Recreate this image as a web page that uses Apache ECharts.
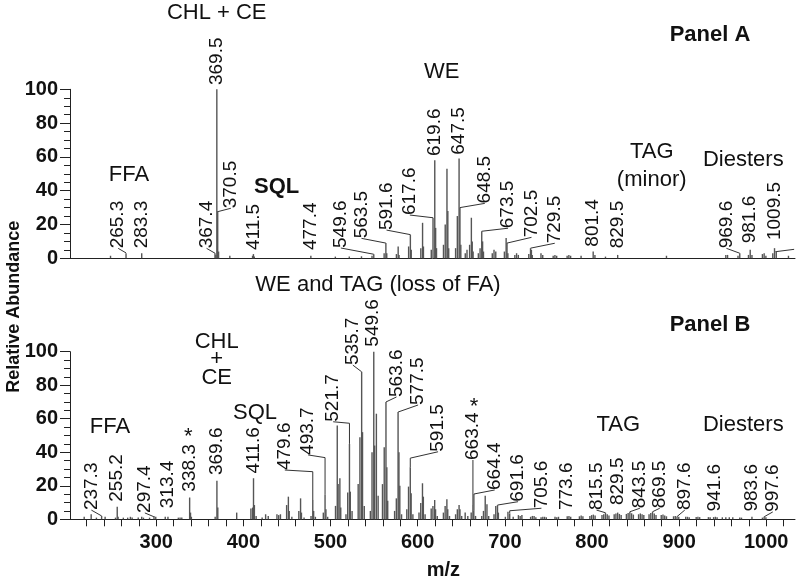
<!DOCTYPE html>
<html>
<head>
<meta charset="utf-8">
<script src="https://cdn.jsdelivr.net/npm/echarts@6/dist/echarts.min.js"></script>
<style>html,body{margin:0;padding:0;background:#fff}#c{width:800px;height:580px}</style>
</head>
<body>
<div id="c"></div>
<script>
// ---------- DATA ----------
// Panel A spectrum: [m/z, relative abundance %]
const spectrumA = [
[247.5,1.5],[265.3,3],[283.3,3],
[367.4,3],[368.4,2],[369.5,100],[370.5,28],[371.5,4],
[384.4,1.5],[410.5,1.5],[411.5,2.5],[412.5,1],
[477.4,1.5],[505.5,1],[521.5,1],[535.5,1.2],
[547.6,1.5],[549.6,2.4],[561.5,3],[563.5,9],[564.5,3],
[575.6,2.5],[577.6,7],[578.6,2],
[589.6,7],[591.6,14],[592.6,5],
[603.6,6],[605.6,21],[606.6,7],
[615.6,5],[617.6,24],[619.6,58],[620.6,18],[621.6,6],
[629.6,8],[631.6,20],[633.6,53],[634.6,28],[635.6,6],
[643.5,6],[645.5,25],[647.5,59],[648.5,30],[649.5,8],
[654.6,3],[656.6,5],[659.6,8],[661.6,24],[662.6,10],[663.6,4],
[669.6,3],[671.6,6],[673.5,16],[674.5,10],[675.5,4],
[685.6,3],[687.6,5],[689.6,4],
[699.5,4],[701.5,12],[702.5,9],[703.5,3],
[711.5,2],[713.5,3],[715.5,2],
[727.5,2.5],[729.5,6],[730.5,5],[731.5,2],
[741.5,3],[743.5,2],
[755.5,1.5],[757.5,2],[759.5,1.5],
[771.5,1.5],[773.5,2],[775.5,1.5],
[787.5,1.5],
[801.4,4],[803.4,2],
[815.5,1],[829.5,2],[885.5,1.5],
[953.6,2],[955.6,2],[967.6,1.5],[969.6,3],[979.6,2],[981.6,5],[983.6,2],
[995.6,2.5],[997.6,3],[999.6,1.5],[1007.5,3],[1009.5,6],[1011.5,4],[1025.5,1.5]
];

// Panel B spectrum: [m/z, relative abundance %]
const spectrumB = [
[217.3,1.5],[225.3,3],[231.3,1],[237.3,2],[241.3,1.5],
[253.2,1],[255.2,7.5],[256.2,1.5],[262.2,1],[267.2,1],[270.3,1.5],[272.3,1],[279.3,1],[283.3,1.5],[285.3,1],
[292.3,1],[297.4,2],[299.4,1.5],[310.3,1.5],[313.4,1.5],[325.3,1],[327.3,1],[329.3,1],
[338.3,13],[339.3,4],[340.3,1.5],
[367.6,1.5],[369.6,23],[370.6,7],
[392.3,4],
[408.6,6.5],[410.6,7],[411.6,24.5],[412.6,8.5],[414.6,2],
[421.5,1],[425.5,3],[428.5,2],[438.5,3],[440.5,2.5],[442.5,3],
[449.6,8.5],[451.6,13.5],[452.6,5],[455.6,1.5],
[463.6,5],[465.6,12.5],[466.6,4],[469.6,1],
[477.6,2],[479.6,11.5],[480.6,5],[482.6,1.5],
[491.7,4],[493.7,15],[494.7,6],[496.7,1.5],
[505.7,8],[507.7,56],[508.7,21],[510.7,24.5],[511.7,7],
[517.7,3],[519.7,16],[521.7,45],[522.7,16.5],[524.7,5],
[531.7,21],[533.7,49],[535.7,88],[536.7,52],[538.7,8],
[545.7,5],[547.6,40],[549.6,100],[550.6,44],[552.6,63],[554.6,14],
[559.6,21],[561.6,43],[563.6,70],[564.6,31],[565.6,11],
[573.5,5],[575.5,12.5],[577.5,64],[578.5,40],[579.5,20],[581.5,3],
[587.5,6],[589.5,19.5],[591.5,31],[592.5,15.5],[594.5,3],
[601.5,4],[603.5,9.7],[605.5,21.5],[606.5,13.5],[608.5,3],
[615.5,6.5],[617.5,8],[619.5,11.5],[620.5,6],[622.5,2],
[629.5,4],[631.5,8],[633.5,12],[634.5,6],[636.5,2],
[643.5,3],[645.5,6],[647.5,8.5],[648.5,6],[650.5,2],
[654.5,4],[657.5,2],
[661.4,4],[663.4,8.5],[664.4,5],[666.4,2],
[673.5,2],[675.5,5],[677.5,14],[679.5,9],[681.5,2],
[687.6,3],[689.6,8],[691.6,8.5],[692.6,4],
[700.6,1.5],[703.6,4.5],[705.6,3.5],[709.6,1.5],
[715.6,2.5],[717.6,2],[719.6,2.5],
[729.6,1.5],[731.6,2],[733.6,2],[735.6,1.2],
[741.6,1.2],[743.6,1.5],
[745.6,1.5],[747.6,1.2],[757.6,1.5],[759.6,1.2],[761.6,1.5],
[771.6,1.8],[773.6,2],[775.6,1.5],[785.6,1.8],[787.6,2.2],[789.6,1.8],
[797.6,2],[799.6,2.5],[801.6,2.8],[803.6,2.2],
[811.5,2.5],[813.5,3],[815.5,3.9],[817.5,3],[819.5,2.2],
[825.5,3],[827.5,3.5],[829.5,4],[831.5,3.2],[833.5,2.5],
[839.5,3.2],[841.5,3.8],[843.5,4.5],[845.5,3.6],[847.5,2.8],
[853.5,3],[855.5,3.5],[857.5,3],[859.5,2.5],
[865.5,3],[867.5,3.8],[869.5,4.5],[871.5,3.5],[873.5,2.5],
[879.5,2.5],[881.5,2.8],[883.5,2.2],[885.5,1.8],
[893.6,1.8],[895.6,2],[897.6,1.6],[899.6,1.5],
[907.6,1.5],[909.6,1.5],[911.6,1.2],[919.6,1.3],[921.6,1.5],[923.6,1.3],
[933.6,1.3],[935.6,1.2],[939.6,1.3],[941.6,1.5],[943.6,1.2],
[949.6,1.2],[953.6,1.2],[957.6,1.2],[961.6,1.2],
[969.6,1],[971.6,1],[983.6,1.5],[995.6,1],[997.6,1.5],[999.6,1.2]
];

// Peak labels: [text, anchor m/z, anchor %, leader polyline in data units]
const peakLabelsA = [
['265.3',256.3,5.9,[[256.3,5.9],[265.3,3.2]]],
['283.3',283.3,5.9,[]],
['367.4',357.7,5.9,[[357.7,5.9],[367.4,3]]],
['369.5',369.3,102.5,[]],
['370.5',385.6,29.6,[[385.6,29.6],[370.6,27.6]]],
['411.5',411.5,4.9,[]],
['477.4',477.4,4.9,[]],
['549.6',511.8,6.1,[[511.8,6.1],[549.6,2.4]]],
['563.5',535.5,11.8,[[535.5,11.8],[563.5,9]]],
['591.6',564.2,16.7,[[564.2,16.7],[591.6,14]]],
['617.6',591.0,25.6,[[591.0,25.6],[617.6,24]]],
['619.6',619.6,60.5,[]],
['647.5',647.5,61.3,[]],
['648.5',677.0,32.5,[[677.0,32.5],[648.5,30]]],
['673.5',703.7,17.8,[[703.7,17.8],[673.5,16]]],
['702.5',730.6,12.4,[[730.6,12.4],[702.5,9]]],
['729.5',757.3,8.9,[[757.3,8.9],[729.5,6]]],
['801.4',801.4,6.9,[]],
['829.5',829.5,5.9,[]],
['969.6',954.3,5.9,[[954.3,5.9],[969.6,3]]],
['981.6',981.6,8.9,[]],
['1009.5',1009.5,10.8,[[1010.5,3.9],[1032,5.3]]]
];

const peakLabelsB = [
['237.3',225.5,5.5,[[225.5,5.5],[237.3,2]]],
['255.2',255.2,10.5,[]],
['297.4',286.9,3.8,[[286.9,3.8],[297.4,1.5]]],
['313.4',313.4,6.6,[]],
['338.3',338.3,16.5,[]],
['369.6',369.6,26.4,[]],
['411.6',411.6,27.4,[]],
['479.6',447.5,29.4,[[447.5,29.4],[479.6,28.4],[479.6,11.5]]],
['493.7',474.3,38.4,[[474.3,38.4],[493.7,36.8],[493.7,15]]],
['521.7',503.0,58.2,[[503.0,58.2],[521.7,57.3],[521.7,45]]],
['535.7',525.6,92,[[525.6,92],[535.7,88]]],
['549.6',548.5,103,[]],
['563.6',575.7,73,[[575.7,73],[563.6,70]]],
['577.5',600.5,68.2,[[600.5,68.2],[577.5,64]]],
['591.5',623.4,40.3,[[623.4,40.3],[591.5,36.5],[591.5,31]]],
['663.4',663.4,35.4,[[663.4,35.4],[663.4,8.5]]],
['664.4',688.4,17.5,[[688.4,17.5],[664.6,15.1],[664.6,5]]],
['691.6',715.2,10.5,[[715.2,10.5],[691.6,8.5]]],
['705.6',742.0,6.6,[[742.0,6.6],[705.6,5.1],[705.6,3.5]]],
['773.6',771.0,5.5,[]],
['815.5',805.2,5.5,[[805.2,5.5],[815.5,3.9]]],
['829.5',830.0,8.5,[]],
['843.5',855.0,6.6,[[855.0,6.6],[843.5,4.5]]],
['869.5',877.8,6.6,[[877.8,6.6],[869.5,4.5]]],
['897.6',906.5,5.5,[[906.5,5.5],[897.6,1.6]]],
['941.6',941.0,4.6,[]],
['983.6',983.6,4.6,[]],
['997.6',1007.5,4.4,[[1007.5,4.4],[997.6,1.5]]]
];

// Axis ticks
const xTickValues = [220,240,260,280,300,320,340,360,380,400,420,440,460,480,500,520,540,560,580,600,620,640,660,680,700,720,740,760,780,800,820,840,860,880,900,920,940,960,980,1000,1020];
const xTickLabels = [300,400,500,600,700,800,900,1000];

// Annotation texts: [text, x px, y px, size, bold]
const annotations = [
['CHL + CE',216.7,13,22,false],
['FFA',129,175,22,false],
['SQL',276.7,186.7,22,true],
['WE',441.7,71.7,22,false],
['Panel A',710,35,22,true],
['TAG',651.7,151.7,22,false],
['(minor)',651.7,180,22,false],
['Diesters',743.3,160,22,false],
['WE and TAG (loss of FA)',378,285,22,false],
['Panel B',710,325,22,true],
['CHL',216.7,341.7,22,false],
['+',216.7,359.3,22,false],
['CE',216.7,378.3,22,false],
['FFA',110,427,22,false],
['SQL',255,413.3,22,false],
['*',188.3,437,22,false],
['*',474,407,22,false],
['TAG',618.3,425,22,false],
['Diesters',743.3,425,22,false],
['m/z',443.3,570,20,true]
];

// ---------- CHART ----------
const FONT = '"Liberation Sans", Arial, Helvetica, sans-serif';
const chart = echarts.init(document.getElementById('c'), null, {renderer:'canvas'});

function labelRenderer(list){
  return function(params, api){
    const rec = list[params.dataIndex];
    const p = api.coord([rec[1], rec[2]]);
    const children = [{
      type:'text', x:p[0], y:p[1], rotation:Math.PI/2,
      style:{text:rec[0], x:0, y:0, fill:'#111', font:'19px ' + FONT,
        align:'left', verticalAlign:'middle', textAlign:'left', textVerticalAlign:'middle'}
    }];
    if (rec[3] && rec[3].length > 1) {
      children.push({
        type:'polyline',
        shape:{points: rec[3].map(q => api.coord(q))},
        style:{stroke:'#333', lineWidth:1, fill:null}
      });
    }
    return {type:'group', children};
  };
}

const yAxisBase = {
  type:'value', min:0, max:100, interval:20,
  axisLine:{show:true, lineStyle:{color:'#222', width:1}},
  axisTick:{show:true, length:10, lineStyle:{color:'#222'}},
  minorTick:{show:true, splitNumber:4, length:6, lineStyle:{color:'#222'}},
  splitLine:{show:false}, minorSplitLine:{show:false},
  axisLabel:{color:'#111', fontSize:20, fontWeight:'bold', fontFamily:FONT, margin:12}
};

const option = {
  animation:false,
  backgroundColor:'#fff',
  grid:[
    {left:70, right:5, top:89.3, height:169, outerBoundsMode:'none', containLabel:false},
    {left:70, right:5, top:351.7, height:167.6, outerBoundsMode:'none', containLabel:false}
  ],
  xAxis:[
    {type:'value', gridIndex:0, min:201, max:1033,
      axisLine:{show:true, onZero:false, lineStyle:{color:'#222'}},
      axisTick:{show:false}, axisLabel:{show:false}, splitLine:{show:false}},
    {type:'value', gridIndex:1, min:201, max:1033,
      axisLine:{show:true, onZero:false, lineStyle:{color:'#222'}},
      axisTick:{show:true, length:7, customValues:xTickValues, lineStyle:{color:'#222'}},
      axisLabel:{show:true, customValues:xTickLabels, formatter:v => String(v),
        color:'#111', fontSize:20, fontWeight:'bold', fontFamily:FONT, margin:13},
      splitLine:{show:false}}
  ],
  yAxis:[
    Object.assign({gridIndex:0}, yAxisBase),
    Object.assign({gridIndex:1}, yAxisBase)
  ],
  series:[
    {type:'bar', xAxisIndex:0, yAxisIndex:0, data:spectrumA, barWidth:1.4,
      itemStyle:{color:'#555'}, silent:true},
    {type:'bar', xAxisIndex:1, yAxisIndex:1, data:spectrumB, barWidth:1.4,
      itemStyle:{color:'#555'}, silent:true},
    {type:'custom', xAxisIndex:0, yAxisIndex:0, clip:false, silent:true,
      data:peakLabelsA.map(l => [l[1], l[2]]), encode:{x:0, y:1},
      renderItem:labelRenderer(peakLabelsA)},
    {type:'custom', xAxisIndex:1, yAxisIndex:1, clip:false, silent:true,
      data:peakLabelsB.map(l => [l[1], l[2]]), encode:{x:0, y:1},
      renderItem:labelRenderer(peakLabelsB)}
  ],
  graphic:[
    {type:'text', x:14, y:306.7, rotation:Math.PI/2,
      style:{text:'Relative Abundance', fill:'#111', font:'bold 18px ' + FONT,
        align:'center', verticalAlign:'middle', textAlign:'center', textVerticalAlign:'middle'}}
  ].concat(annotations.map(a => ({
    type:'text', x:a[1], y:a[2],
    style:{text:a[0], fill:'#111', font:(a[4] ? 'bold ' : '') + a[3] + 'px ' + FONT,
      align:'center', verticalAlign:'middle', textAlign:'center', textVerticalAlign:'middle'}
  })))
};
chart.setOption(option);
</script>
</body>
</html>
